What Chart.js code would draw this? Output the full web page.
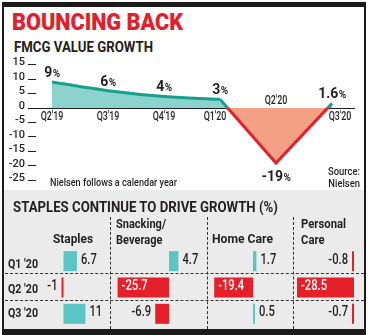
<!DOCTYPE html>
<html>
<head>
<meta charset="utf-8">
<script src="https://cdn.jsdelivr.net/npm/chart.js@4.4.1/dist/chart.umd.min.js"></script>
<style>
body { margin: 0; background: #fff; }
#page { position: relative; width: 371px; height: 335px; overflow: hidden;
  font-family: Roboto, "Liberation Sans", sans-serif; color: #231f20; }
.t { position: absolute; white-space: nowrap; line-height: 1; transform-origin: left top; }
.bar { position: absolute; background: #1b1b1b; }
.gray { position: absolute; left: 4px; top: 190px; width: 360px; height: 139px; background: #ebebeb; }
.hdash { position: absolute; left: 5px; width: 359px; height: 0; border-top: 1px dashed #333; }
.vdash { position: absolute; top: 217px; height: 112px; width: 0; border-left: 1px dashed #333; }
canvas { position: absolute; }
</style>
</head>
<body>
<div id="page">
  <div class="gray"></div>
  <div class="bar" style="left:2px;top:2px;width:364px;height:5px"></div>
  <div class="bar" style="left:2px;top:2px;width:2px;height:330px"></div>
  <div class="bar" style="left:364px;top:2px;width:2px;height:330px"></div>
  <div class="bar" style="left:2px;top:329px;width:364px;height:6px"></div>

  <div class="t" data-w="171" style="left:12px;top:10px;font-size:24px;font-weight:900;color:#e2202c">BOUNCING BACK</div>
  <div class="t" data-w="139" style="left:14px;top:40px;font-size:15px;font-weight:bold">FMCG VALUE GROWTH</div>

  <canvas id="lineChart" width="371" height="135" style="left:0;top:55px"></canvas>

  <div class="t" data-w="127" style="left:50px;top:177px;font-size:11px;font-weight:500">Nielsen follows a calendar year</div>
  <div class="t" data-w="32" style="left:328px;top:166px;font-size:11px;font-weight:500;text-align:right;line-height:12px">Source:<br>Nielsen</div>

  <div class="t" data-w="265" style="left:13px;top:200px;font-size:15px;font-weight:bold">STAPLES CONTINUE TO DRIVE GROWTH (%)</div>
  <div class="t" data-w="40" style="left:53px;top:232px;font-size:13px;font-weight:bold">Staples</div>
  <div class="t" data-w="50" style="left:116px;top:216px;font-size:13px;font-weight:bold;line-height:16px">Snacking/<br>Beverage</div>
  <div class="t" data-w="61" style="left:212px;top:232px;font-size:13px;font-weight:bold">Home Care</div>
  <div class="t" data-w="45" style="left:301px;top:216px;font-size:13px;font-weight:bold;line-height:16px">Personal<br>Care</div>

  <div class="vdash" style="left:110px"></div>
  <div class="vdash" style="left:207px"></div>
  <div class="vdash" style="left:293px"></div>
  <div class="hdash" style="top:273px"></div>
  <div class="hdash" style="top:300px"></div>

  <div id="rowLabels"></div>

  <canvas id="c0" width="70" height="79" style="left:40px;top:248px"></canvas>
  <canvas id="c1" width="97" height="79" style="left:110px;top:248px"></canvas>
  <canvas id="c2" width="86" height="79" style="left:207px;top:248px"></canvas>
  <canvas id="c3" width="71" height="79" style="left:293px;top:248px"></canvas>
</div>

<script>
// --- données du graphique ---
const quarters = ["Q2'19", "Q3'19", "Q4'19", "Q1'20", "Q2'20", "Q3'20"];
const growth = [9, 6, 4, 3, -19, 1.6];
const yMin = -25, yMax = 15, yStep = 5;

const rowNames = ["Q1 '20", "Q2 '20", "Q3 '20"];
const staples = [6.7, -1, 11];
const snacking = [4.7, -25.7, -6.9];
const homeCare = [1.7, -19.4, 0.5];
const personalCare = [-0.8, -28.5, -0.7];

const FONT = 'Roboto, "Liberation Sans", sans-serif';
const DARK = '#231f20';
const TEAL_LINE = '#15a08f';
const TEAL_FILL = '#8dd3cd';
const RED = '#e5202b';
const SALMON = '#f3a084';
const BAR_TEAL = '#5bc4c5';

// texte "condensé" : on écrase horizontalement
function condText(ctx, txt, x, y, sx) {
  ctx.save();
  ctx.translate(x, y);
  ctx.scale(sx, 1);
  ctx.fillText(txt, 0, 0);
  ctx.restore();
}

// couleur de ligne coupée au niveau zéro
function splitColor(c) {
  const chart = c.chart;
  const area = chart.chartArea;
  if (!area) return TEAL_LINE;
  const y0 = chart.scales.y.getPixelForValue(0);
  const g = chart.ctx.createLinearGradient(0, area.top, 0, area.bottom);
  const s = (y0 - area.top) / (area.bottom - area.top);
  g.addColorStop(0, TEAL_LINE);
  g.addColorStop(s, TEAL_LINE);
  g.addColorStop(s, RED);
  g.addColorStop(1, RED);
  return g;
}

// étiquettes : trimestres + valeurs en %
const lineLabels = {
  id: 'lineLabels',
  afterDatasetsDraw(chart) {
    const ctx = chart.ctx;
    const x = chart.scales.x, y = chart.scales.y;
    const y0 = y.getPixelForValue(0);
    ctx.save();
    ctx.fillStyle = DARK;
    growth.forEach((v, i) => {
      const px = x.getPixelForValue(i);
      const py = y.getPixelForValue(v);
      // valeur
      const num = String(v);
      ctx.font = 'bold 14px ' + FONT;
      const w1 = ctx.measureText(num).width;
      ctx.font = 'bold 10px ' + FONT;
      const w2 = ctx.measureText('%').width;
      const left = px - (w1 + w2) / 2;
      const base = v >= 0 ? py - 5 : py + 18;
      ctx.textAlign = 'left';
      ctx.textBaseline = 'alphabetic';
      ctx.font = 'bold 14px ' + FONT;
      ctx.fillText(num, left, base);
      ctx.font = 'bold 10px ' + FONT;
      ctx.fillText('%', left + w1 + 0.5, base);
      // trimestre
      let dx = 0;
      if (growth[i + 1] < 0) dx = -5;
      if (growth[i - 1] < 0) dx = 8;
      ctx.font = '500 12px ' + FONT;
      ctx.textAlign = 'center';
      ctx.textBaseline = 'middle';
      condText(ctx, quarters[i], px + dx, v < 0 ? y0 - 7 : y0 + 9, 0.74);
    });
    ctx.restore();
  }
};

new Chart(document.getElementById('lineChart'), {
  type: 'line',
  data: {
    datasets: [
      {
        data: growth.slice(0, 4).map((v, i) => ({ x: i, y: v })),
        borderColor: TEAL_LINE,
        borderWidth: 3,
        tension: 0.4,
        pointRadius: 0,
        fill: { target: { value: 0 }, above: TEAL_FILL, below: TEAL_FILL }
      },
      {
        data: growth.slice(3).map((v, i) => ({ x: i + 3, y: v })),
        borderColor: splitColor,
        borderWidth: 3,
        tension: 0,
        pointRadius: 0,
        fill: { target: { value: 0 }, above: TEAL_FILL, below: SALMON }
      }
    ]
  },
  options: {
    responsive: false,
    animation: false,
    layout: { padding: { top: 8, bottom: 7, left: 0, right: 16 }, autoPadding: false },
    plugins: { legend: { display: false }, tooltip: { enabled: false } },
    scales: {
      x: { type: 'linear', display: false, min: -16 / 56, max: 303 / 56 },
      y: {
        min: yMin, max: yMax,
        afterFit: s => { s.width = 36; },
        border: { display: false },
        ticks: { stepSize: yStep, autoSkip: false, color: DARK, padding: 3, labelOffset: -2, font: { family: FONT, size: 11, weight: '500' } },
        grid: {
          color: c => c.tick && c.tick.value === 0 ? DARK : 'rgba(0,0,0,0)',
          tickColor: DARK,
          tickLength: 8,
          lineWidth: 1
        }
      }
    }
  },
  plugins: [lineLabels]
});

// --- tableau : une petite barre horizontale par colonne ---
const rowLabels = document.getElementById('rowLabels');
[264, 289, 313].forEach((cy, i) => {
  const d = document.createElement('div');
  d.className = 't';
  d.dataset.w = 30;
  d.style.cssText = 'left:8px;top:' + (cy - 6) + 'px;font-size:12px;font-weight:bold';
  d.textContent = rowNames[i];
  rowLabels.appendChild(d);
});

const barLabels = {
  id: 'barLabels',
  afterDatasetsDraw(chart) {
    const ctx = chart.ctx;
    const vals = chart.data.datasets[0].data;
    ctx.save();
    ctx.font = '500 14px ' + FONT;
    ctx.textBaseline = 'middle';
    chart.getDatasetMeta(0).data.forEach((bar, i) => {
      const v = vals[i];
      const p = bar.getProps(['x', 'y', 'base'], true);
      const ty = p.y - 1;
      if (v >= 0) {
        ctx.fillStyle = DARK; ctx.textAlign = 'left';
        condText(ctx, String(v), Math.max(p.x, p.base) + 4, ty, 0.8);
      } else if (p.base - p.x > 30) {
        ctx.fillStyle = '#fff'; ctx.textAlign = 'left';
        condText(ctx, String(v), p.x + 4, ty, 0.8);
      } else {
        ctx.fillStyle = DARK; ctx.textAlign = 'right';
        condText(ctx, String(v), Math.min(p.x, p.base) - 4, ty, 0.8);
      }
    });
    ctx.restore();
  }
};

function barChart(id, values, left, width, zero) {
  const pxPerUnit = 2;
  new Chart(document.getElementById(id), {
    type: 'bar',
    data: {
      labels: rowNames,
      datasets: [{
        data: values,
        backgroundColor: values.map(v => v >= 0 ? BAR_TEAL : RED),
        barPercentage: 1,
        categoryPercentage: 0.76,
        minBarLength: 2
      }]
    },
    options: {
      indexAxis: 'y',
      responsive: false,
      animation: false,
      layout: { padding: 0, autoPadding: false },
      plugins: { legend: { display: false }, tooltip: { enabled: false } },
      scales: {
        x: { display: false, min: -(zero - left) / pxPerUnit, max: (left + width - zero) / pxPerUnit },
        y: { display: false }
      }
    },
    plugins: [barLabels]
  });
}

barChart('c0', staples, 40, 70, 63.5);
barChart('c1', snacking, 110, 97, 169);
barChart('c2', homeCare, 207, 86, 253);
barChart('c3', personalCare, 293, 71, 354);

// ajuster la largeur des textes HTML
document.querySelectorAll('[data-w]').forEach(el => {
  const w = el.getBoundingClientRect().width;
  el.style.transform = 'scaleX(' + (el.dataset.w / w) + ')';
});
</script>
</body>
</html>
